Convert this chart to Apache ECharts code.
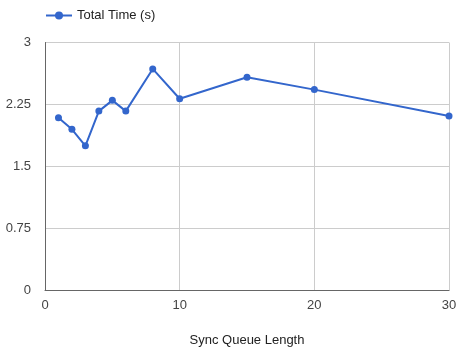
<!DOCTYPE html>
<html><head><meta charset="utf-8">
<script src="https://cdn.jsdelivr.net/npm/echarts@6/dist/echarts.min.js"></script>
<style>html,body{margin:0;padding:0;background:#fff}#c{width:457px;height:347px}</style>
</head><body><div id="c"></div>
<script>
var queueLengths = [1, 2, 3, 4, 5, 6, 8, 10, 15, 20, 30];
var totalTimes = [2.09, 1.95, 1.75, 2.17, 2.30, 2.17, 2.68, 2.32, 2.58, 2.43, 2.11];
var seriesName = 'Total Time (s)';
var xTitle = 'Sync Queue Length';
var yTicks = [0, 0.75, 1.5, 2.25, 3];

var chart = echarts.init(document.getElementById('c'));
var font = 'Arial, "Liberation Sans", sans-serif';
chart.setOption({
  animation: false,
  legend: {
    left: 40, top: 4, itemWidth: 26, itemHeight: 10, itemGap: 8,
    textStyle: {fontFamily: font, fontSize: 13, color: '#222'},
    data: [seriesName]
  },
  grid: {left: 45, right: 8, top: 42.5, bottom: 56.5, containLabel: false, outerBoundsMode: 'none'},
  xAxis: {
    type: 'value', min: 0, max: 30, interval: 10,
    name: xTitle, nameLocation: 'middle', nameGap: 43,
    nameTextStyle: {fontFamily: font, fontSize: 13, color: '#222'},
    axisLine: {show: true, lineStyle: {color: '#666', width: 1}},
    axisTick: {show: false},
    axisLabel: {fontFamily: font, fontSize: 13, color: '#444', margin: 8},
    splitLine: {show: true, lineStyle: {color: '#ccc', width: 1}}
  },
  yAxis: {
    type: 'value', min: 0, max: 3, interval: 0.75,
    axisLine: {show: true, lineStyle: {color: '#666', width: 1}},
    axisTick: {show: false},
    axisLabel: {fontFamily: font, fontSize: 13, color: '#444', margin: 14,
      formatter: function (v) { return yTicks.indexOf(v) >= 0 ? String(v) : ''; }},
    splitLine: {show: true, lineStyle: {color: '#ccc', width: 1}}
  },
  series: [{
    name: seriesName, type: 'line',
    data: queueLengths.map(function (x, i) { return [x, totalTimes[i]]; }),
    symbol: 'circle', symbolSize: 7,
    lineStyle: {color: '#3366cc', width: 2},
    itemStyle: {color: '#3366cc'}
  }]
});
</script></body></html>
